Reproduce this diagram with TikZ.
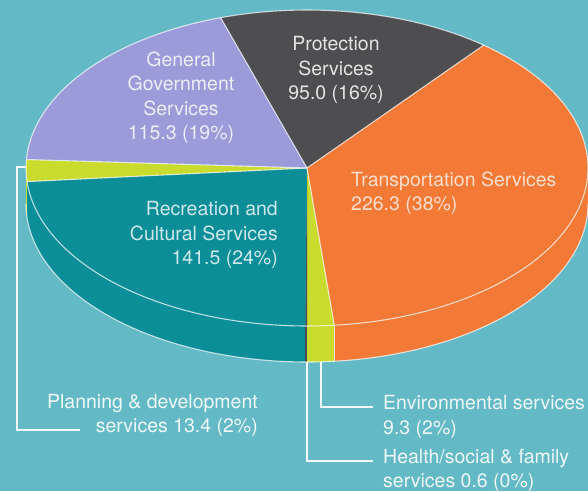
\documentclass[tikz,border=0pt]{standalone}
\usepackage{fontspec}
\setmainfont{TeX Gyre Heros}
\definecolor{bg}{HTML}{63B9C5}
\definecolor{cgen}{HTML}{9A9BD8}
\definecolor{cprot}{HTML}{4E4E51}
\definecolor{ctrans}{HTML}{F27A36}
\definecolor{crec}{HTML}{0C8E98}
\definecolor{clime}{HTML}{C9DB2C}
\definecolor{chealth}{HTML}{4A4A55}
\begin{document}
\begin{tikzpicture}[x=1pt,y=-1pt,
  lbl/.style={inner sep=0pt, font=\fontsize{19.5}{24.5}\selectfont},
  edge/.style={draw=white, draw opacity=0.7, line width=1.1pt},
  leader/.style={draw=white!92!bg, line width=1.4pt},
]
\useasboundingbox (0,0) rectangle (588,491);
\fill[bg] (0,0) rectangle (588,491);
% side faces
\foreach \a/\b/\c in {180/184.94/clime, 184.94/269.64/crec, 269.64/270/chealth, 270/275.57/clime, 275.57/360/ctrans}{
  \fill[\c] plot[domain=\a:\b,samples=80,variable=\t] ({307+281*cos(\t)},{168-158*sin(\t)})
    -- plot[domain=\b:\a,samples=80,variable=\t] ({307+281*cos(\t)},{204-158*sin(\t)}) -- cycle;
}
% top faces
\foreach \a/\b/\c in {51.03/107.9/cprot, -84.43/51.03/ctrans, -90/-84.43/clime, -90.36/-90/chealth, -175.06/-90.36/crec, -183.08/-175.06/clime, -252.1/-183.08/cgen}{
  \fill[\c] (307,168) -- plot[domain=\a:\b,samples=80,variable=\t] ({307+281*cos(\t)},{168-158*sin(\t)}) -- cycle;
}
% outlines
\draw[edge] plot[domain=0:360,samples=240,variable=\t] ({307+281*cos(\t)},{168-158*sin(\t)});
\draw[edge] plot[domain=180:360,samples=160,variable=\t] ({307+281*cos(\t)},{204-158*sin(\t)});
\foreach \a in {107.9,51.03,-84.43,-175.06,-183.08}{
  \draw[edge] (307,168) -- ({307+281*cos(\a)},{168-158*sin(\a)});
}
\draw[edge] ({307+281*cos(275.57)},{168-158*sin(275.57)}) -- ({307+281*cos(275.57)},{204-158*sin(275.57)});
% labels
\node[lbl, align=center, text=white!82!cgen] (lgen) at (181,98) {General\\Government\\Services\\115.3 (19\%)};
\node[lbl, align=center, text=white!85!cprot] (lprot) at (336,70) {Protection\\Services\\95.0 (16\%)};
\node[lbl, align=left, anchor=west, text=white!75!ctrans] (ltrans) at (351,193.5) {Transportation Services\\226.3 (38\%)};
\node[lbl, align=right, anchor=east, text=white!80!crec] (lrec) at (278,235) {Recreation and\\Cultural Services\\141.5 (24\%)};
\node[lbl, align=right, anchor=east, text=white!90!bg] (lplan) at (258,415.5) {Planning \& development\\services 13.4 (2\%)};
\node[lbl, align=left, anchor=west, text=white!90!bg] (lenv) at (383,417) {Environmental services\\9.3 (2\%)};
\node[lbl, align=left, anchor=west, text=white!90!bg] (lhealth) at (383,470.5) {Health/social \& family\\services 0.6 (0\%)};
% leader lines
\coordinate (pplan) at (26,167);
\coordinate (plancorner) at (17,167);
\coordinate (planend) at (80,430);
\draw[leader] (pplan) -- (plancorner) |- (planend);
\coordinate (penv) at (321,362);
\coordinate (envend) at (373,407);
\draw[leader] (penv) |- (envend);
\coordinate (phealth) at (307,362);
\coordinate (healthend) at (373,461);
\draw[leader] (phealth) |- (healthend);
\end{tikzpicture}
\end{document}
